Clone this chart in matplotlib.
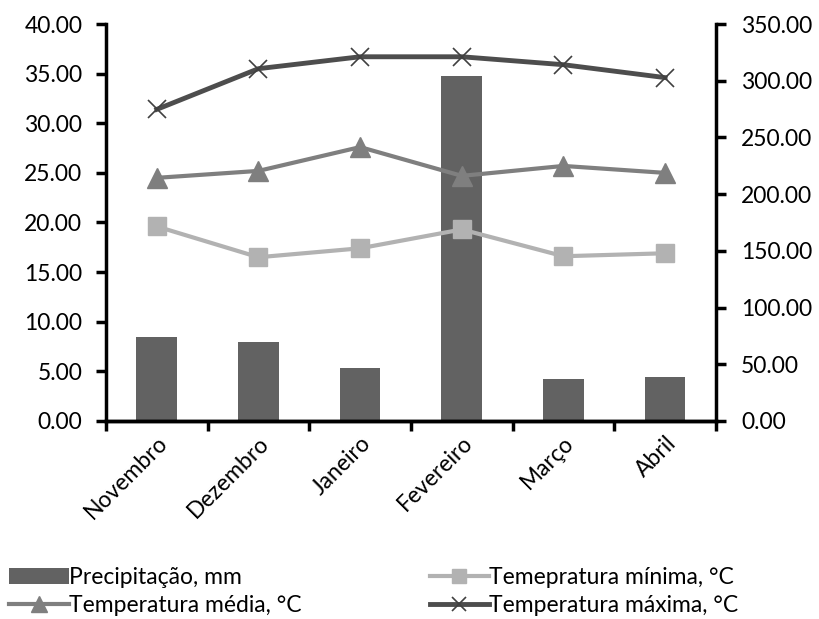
import numpy as np
import matplotlib
matplotlib.use('Agg')
import matplotlib.pyplot as plt
from matplotlib.ticker import FormatStrFormatter

plt.rcParams['font.family'] = ['Lato', 'DejaVu Sans']

# dados
meses = ['Novembro', 'Dezembro', 'Janeiro', 'Fevereiro', 'Março', 'Abril']
precipitacao = [74.0, 69.7, 46.7, 304.0, 37.0, 38.8]      # mm (eixo direito)
temp_min = [19.6, 16.5, 17.4, 19.3, 16.6, 16.9]            # °C
temp_med = [24.5, 25.2, 27.6, 24.7, 25.7, 25.0]            # °C
temp_max = [31.4, 35.5, 36.7, 36.7, 35.9, 34.6]            # °C

x = np.arange(len(meses))
FS = 16.5

fig = plt.figure(figsize=(8.19, 6.19), dpi=100)
ax = fig.add_axes([0.1294, 0.3199, 0.7448, 0.6413])
ax2 = ax.twinx()

# barras no eixo direito, linhas por cima
b = ax2.bar(x, precipitacao, width=0.4, color='#626262', label='Precipitação, mm')
ax.set_zorder(ax2.get_zorder() + 1)
ax.patch.set_visible(False)

l_med, = ax.plot(x, temp_med, color='#7f7f7f', lw=3, marker='^', markersize=14,
                 label='Temperatura média, °C')
l_min, = ax.plot(x, temp_min, color='#b2b2b2', lw=3, marker='s', markersize=13,
                 label='Temepratura mínima, °C')
l_max, = ax.plot(x, temp_max, color='#4d4d4d', lw=3.5, marker='x', markersize=13,
                 markeredgewidth=1.2, markeredgecolor='#404040',
                 label='Temperatura máxima, °C')

ax.set_xlim(-0.5, len(meses) - 0.5)
ax.set_ylim(0, 40)
ax2.set_ylim(0, 350)
ax.set_yticks(np.arange(0, 41, 5))
ax2.set_yticks(np.arange(0, 351, 50))
ax.yaxis.set_major_formatter(FormatStrFormatter('%.2f'))
ax2.yaxis.set_major_formatter(FormatStrFormatter('%.2f'))

# ticks do eixo x nas fronteiras das categorias
ax.set_xticks(np.arange(-0.5, len(meses), 1.0))
ax.set_xticklabels([])
ax.set_xticks(x, minor=True)
ax.set_xticklabels(meses, minor=True, rotation=45, ha='right', rotation_mode='anchor',
                   fontsize=FS)
ax.tick_params(axis='x', which='minor', length=0, pad=8)
ax.tick_params(axis='x', which='major', length=7, width=2.5, direction='out')
ax.tick_params(axis='y', length=7, width=2.5, labelsize=FS, pad=10)
ax2.tick_params(axis='y', length=7, width=2.5, labelsize=FS, pad=11)

for a in (ax, ax2):
    a.spines['top'].set_visible(False)
    for s in ('left', 'right', 'bottom'):
        a.spines[s].set_linewidth(2.5)
ax.spines['right'].set_visible(False)
ax2.spines['left'].set_visible(False)

fig.legend(handles=[b, l_med, l_min, l_max], loc='lower left',
           bbox_to_anchor=(0.0, -0.01), ncol=2, frameon=False, fontsize=FS,
           handlelength=2.6, handletextpad=0.0, columnspacing=5.6,
           labelspacing=0.3, borderaxespad=0.0, markerscale=0.8)

plt.savefig('out.png', dpi=100)
plt.close()
